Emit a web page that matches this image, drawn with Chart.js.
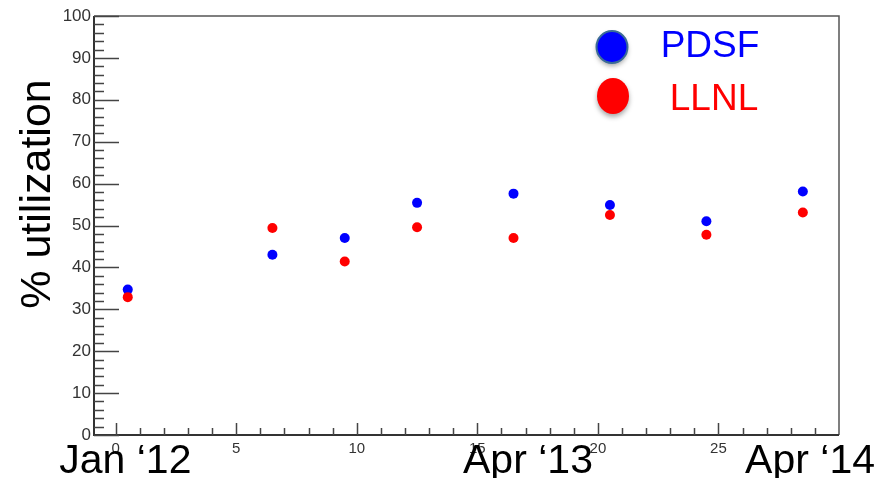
<!DOCTYPE html>
<html lang="en">
<head>
  <meta charset="UTF-8" />
  <title>% utilization</title>
  <script src="https://cdn.jsdelivr.net/npm/chart.js"></script>
  <style>
    body { margin: 0; background: #fff; }
    #wrap { width: 883px; height: 478px; }
  </style>
</head>
<body>
  <div id="wrap"><canvas id="util" width="883" height="478"></canvas></div>

  <script>
    // months since Jan '12
    const months = [0.5, 6.5, 9.5, 12.5, 16.5, 20.5, 24.5, 28.5];
    const pdsf = [34.7, 43.0, 47.0, 55.4, 57.6, 54.9, 51.0, 58.1];
    const llnl = [32.9, 49.4, 41.4, 49.6, 47.0, 52.5, 47.8, 53.1];

    const xTicks = [0, 5, 10, 15, 20, 25];
    const yTicks = [0, 10, 20, 30, 40, 50, 60, 70, 80, 90, 100];
    const dateLabels = ["Jan \u201812", "Apr \u201813", "Apr \u201814"];
    const datePos = [0.4, 17.1, 28.8];

    const bigFont = '41px "Liberation Sans", Arial, sans-serif';

    // axis frame, inward ticks, title, date labels and legend
    const decor = {
      id: "decor",
      afterDraw(chart) {
        const ctx = chart.ctx;
        const a = chart.chartArea;
        const x = chart.scales.x, y = chart.scales.y;
        ctx.save();

        // box
        ctx.strokeStyle = "#555";
        ctx.lineWidth = 1.5;
        ctx.beginPath();
        ctx.moveTo(a.left, a.top); ctx.lineTo(a.right, a.top); ctx.lineTo(a.right, a.bottom);
        ctx.stroke();
        ctx.strokeStyle = "#333";
        ctx.lineWidth = 2;
        ctx.beginPath();
        ctx.moveTo(a.left, a.top); ctx.lineTo(a.left, a.bottom); ctx.lineTo(a.right, a.bottom);
        ctx.stroke();

        // ticks
        ctx.lineWidth = 1.5;
        ctx.strokeStyle = "#444";
        ctx.beginPath();
        for (let v = 0; v <= 29; v++) {
          const px = Math.round(x.getPixelForValue(v)) + 0.5;
          const len = v % 5 === 0 ? 12 : 7;
          ctx.moveTo(px, a.bottom); ctx.lineTo(px, a.bottom - len);
        }
        for (let v = 0; v <= 100; v += 2) {
          const py = Math.round(y.getPixelForValue(v)) + 0.5;
          const len = v % 10 === 0 ? 25 : 10;
          ctx.moveTo(a.left, py); ctx.lineTo(a.left + len, py);
        }
        ctx.stroke();

        // y title
        ctx.fillStyle = "#000";
        ctx.font = '43px "Liberation Sans", Arial, sans-serif';
        ctx.textAlign = "center";
        ctx.textBaseline = "alphabetic";
        ctx.save();
        ctx.translate(50, 194);
        ctx.rotate(-Math.PI / 2);
        ctx.fillText("% utilization", 0, 0);
        ctx.restore();

        // date labels
        ctx.font = bigFont;
        dateLabels.forEach((t, i) => {
          ctx.fillText(t, x.getPixelForValue(datePos[i]), 473);
        });

        // legend
        const items = [
          { text: "PDSF", color: "#0000ff", edge: "#3b6b96", cx: 612, cy: 47, rx: 15.5, ry: 16, tx: 710, ty: 57 },
          { text: "LLNL", color: "#ff0000", edge: null, cx: 613, cy: 96, rx: 16, ry: 18, tx: 714, ty: 110 }
        ];
        items.forEach(it => {
          ctx.save();
          ctx.shadowColor = "rgba(0,0,0,0.35)";
          ctx.shadowBlur = 5;
          ctx.shadowOffsetY = 3;
          ctx.fillStyle = it.color;
          ctx.beginPath();
          ctx.ellipse(it.cx, it.cy, it.rx, it.ry, 0, 0, Math.PI * 2);
          ctx.fill();
          ctx.restore();
          if (it.edge) {
            ctx.strokeStyle = it.edge;
            ctx.lineWidth = 2;
            ctx.beginPath();
            ctx.ellipse(it.cx, it.cy, it.rx, it.ry, 0, 0, Math.PI * 2);
            ctx.stroke();
          }
          ctx.fillStyle = it.color;
          ctx.font = '37px "Liberation Sans", Arial, sans-serif';
          ctx.textAlign = "center";
          ctx.fillText(it.text, it.tx, it.ty);
        });

        ctx.restore();
      }
    };

    new Chart(document.getElementById("util"), {
      type: "scatter",
      data: {
        datasets: [
          {
            label: "PDSF",
            data: months.map((m, i) => ({ x: m, y: pdsf[i] })),
            backgroundColor: "#0000ff",
            borderWidth: 0,
            pointRadius: 5,
            order: 1
          },
          {
            label: "LLNL",
            data: months.map((m, i) => ({ x: m, y: llnl[i] })),
            backgroundColor: "#ff0000",
            borderWidth: 0,
            pointRadius: 5,
            order: 0
          }
        ]
      },
      options: {
        responsive: false,
        animation: false,
        layout: { padding: { top: 16, right: 44, left: 0, bottom: 0 } },
        plugins: { legend: { display: false }, tooltip: { enabled: false } },
        scales: {
          x: {
            type: "linear",
            min: -0.9,
            max: 30,
            grid: { display: false, drawTicks: false },
            border: { display: false },
            afterBuildTicks: s => { s.ticks = xTicks.map(v => ({ value: v })); },
            afterFit: s => { s.height = 43; },
            ticks: {
              padding: 5,
              color: "#333",
              font: { family: '"Liberation Sans", Arial, sans-serif', size: 15 }
            }
          },
          y: {
            min: 0,
            max: 100,
            grid: { display: false, drawTicks: false },
            border: { display: false },
            afterBuildTicks: s => { s.ticks = yTicks.map(v => ({ value: v })); },
            afterFit: s => { s.width = 94; },
            ticks: {
              padding: 3,
              color: "#333",
              font: { family: '"Liberation Sans", Arial, sans-serif', size: 17 }
            }
          }
        }
      },
      plugins: [decor]
    });
  </script>
</body>
</html>
